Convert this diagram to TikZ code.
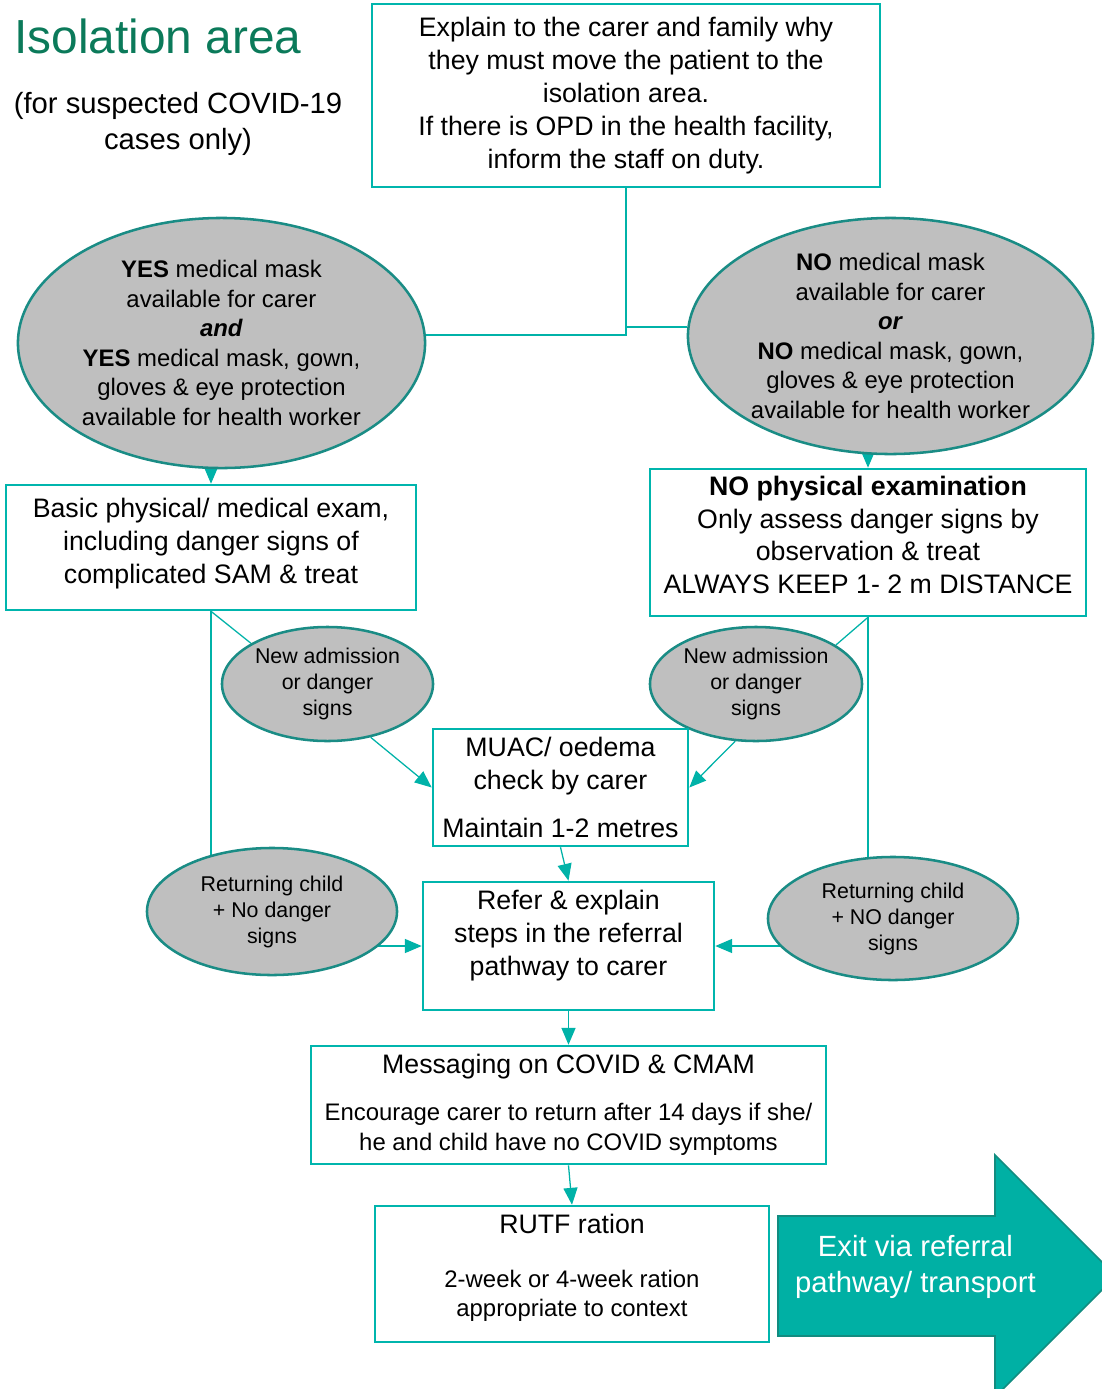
\documentclass[tikz,border=0pt]{standalone}
\usepackage{fontspec}
\setmainfont{Liberation Sans}
\usetikzlibrary{shapes.geometric,arrows.meta,positioning,calc,backgrounds}

\definecolor{boxteal}{RGB}{0,181,173}
\definecolor{ringteal}{RGB}{26,140,133}
\definecolor{linkteal}{RGB}{0,178,168}
\definecolor{exitteal}{RGB}{0,176,164}
\definecolor{exitedge}{RGB}{18,140,128}
\definecolor{titlegreen}{RGB}{11,122,90}
\definecolor{ovalgrey}{RGB}{191,191,191}

\newcommand{\boxfont}{\fontsize{19}{23.4}\selectfont}
\newcommand{\ovalfont}{\fontsize{17}{21}\selectfont}
\newcommand{\smallovalfont}{\fontsize{15.2}{18.5}\selectfont}
\newcommand{\headfont}{\fontsize{20.8}{25.6}\selectfont}

\begin{document}
\begin{tikzpicture}[
        x=0.025cm, y=-0.025cm,
        >={Triangle[length=12pt,width=10pt]},
        % Block styles
        stepbox/.style={
            rectangle,
            draw=boxteal,
            line width=1.8pt,
            inner sep=0pt,
            align=center,
            font=\boxfont
        },
        oval/.style={
            ellipse,
            draw=ringteal,
            line width=1.8pt,
            fill=ovalgrey,
            inner sep=0pt,
            align=center,
            font=\ovalfont
        },
        smalloval/.style={
            oval,
            font=\smallovalfont
        },
        link/.style={draw=linkteal, line width=0.9pt},
        arrow/.style={link, ->}
    ]
    \useasboundingbox (0,0) rectangle (1101,1389);

    % Title
    \node[anchor=base west, inner sep=0pt, text=titlegreen, font=\fontsize{34}{40}\selectfont] (title) at (14,53) {Isolation area};
    \node[align=center, inner sep=0pt, font=\headfont] (subtitle) at (178,124) {(for suspected COVID-19\\cases only)};

    % Top
    \node[stepbox, minimum width=12.7cm, minimum height=4.575cm] (explain) at (626,95.5) {Explain to the carer and family why\\they must move the patient to the\\isolation area.\\If there is OPD in the health facility,\\inform the staff on duty.};

    % PPE ovals
    \node[oval, minimum width=10.175cm, minimum height=6.25cm] (yesppe) at (221.5,343) {\textbf{YES} medical mask\\available for carer\\\textbf{\textit{and}}\\\textbf{YES} medical mask, gown,\\gloves \& eye protection\\available for health worker};
    \node[oval, minimum width=10.125cm, minimum height=5.9cm] (noppe) at (890.5,336) {\textbf{NO} medical mask\\available for carer\\\textbf{\textit{or}}\\\textbf{NO} medical mask, gown,\\gloves \& eye protection\\available for health worker};

    % Examination
    \node[stepbox, minimum width=10.25cm, minimum height=3.125cm] (basic) at (211,547.5) {Basic physical/ medical exam,\\including danger signs of\\complicated SAM \& treat\rule[-9pt]{0pt}{1pt}};
    \node[stepbox, minimum width=10.9cm, minimum height=3.675cm] (nophys) at (868,542.5) {\textbf{NO physical examination}\\Only assess danger signs by\\observation \& treat\\ALWAYS KEEP 1- 2 m DISTANCE\rule[-11pt]{0pt}{1pt}};

    % Admission ovals
    \node[smalloval, minimum width=5.275cm, minimum height=2.85cm] (newleft) at (327.5,684) {New admission\\or danger\\signs};
    \node[smalloval, minimum width=5.3cm, minimum height=2.85cm] (newright) at (756,684) {New admission\\or danger\\signs};
    \node[smalloval, minimum width=6.25cm, minimum height=3.175cm] (retleft) at (272,911.5) {Returning child\\+ No danger\\signs};
    \node[smalloval, minimum width=6.25cm, minimum height=3.075cm] (retright) at (893,918.5) {Returning child\\+ NO danger\\signs};

    % Middle steps
    \node[stepbox, minimum width=6.375cm, minimum height=2.925cm] (muac) at (560.5,787.5) {MUAC/ oedema\\check by carer\\[11.3pt]Maintain 1-2 metres};
    \node[stepbox, minimum width=7.275cm, minimum height=3.2cm] (refer) at (568.5,946) {Refer \& explain\\steps in the referral\\pathway to carer\rule[-19pt]{0pt}{1pt}};
    \node[stepbox, minimum width=12.875cm, minimum height=2.95cm] (messaging) at (568.5,1105) {Messaging on COVID \& CMAM\\[10pt]\ovalfont Encourage carer to return after 14 days if she/\\[-2.4pt]\ovalfont he and child have no COVID symptoms};
    \node[stepbox, minimum width=9.85cm, minimum height=3.4cm] (rutf) at (572,1274) {RUTF ration\\[14.3pt]\ovalfont 2-week or 4-week ration\\[-2.4pt]\ovalfont appropriate to context\rule[-12pt]{0pt}{1pt}};

    % Exit
    \fill[exitteal, draw=exitedge, line width=1.2pt] (778,1216) -- (995,1216) -- (995,1155) -- (1116,1276) -- (995,1397) -- (995,1336) -- (778,1336) -- cycle;
    \node[align=center, inner sep=0pt, text=white, font=\headfont] (exit) at (915.5,1267) {Exit via referral\\pathway/ transport};

    % Connections
    \begin{scope}[on background layer]
        \draw[link] (explain.south) |- ([yshift=0.2cm]yesppe.east);
        \draw[link] ([yshift=0.225cm]noppe.west) -| (explain.south);
        \draw[arrow] (basic.north |- yesppe.south) -- (basic.north);
        \draw[arrow] (nophys.north |- noppe.south) -- (nophys.north);

        \draw[link] (basic.south) -- (newleft.152);
        \draw[arrow] (newleft.-51) -- (muac.west);
        \draw[link] (nophys.south) -- (newright.26);
        \draw[arrow] (newright.250) -- (muac.east);

        \draw[link] (basic.south) -- (basic.south |- retleft);
        \draw[arrow] (retleft |- refer.west) -- (refer.west);
        \draw[link] (nophys.south) -- (nophys.south |- retright);
        \draw[arrow] (retright |- refer.east) -- (refer.east);

        \draw[arrow] (muac.south) -- (refer.north);
        \draw[arrow] (refer.south) -- (messaging.north);
        \draw[arrow] (messaging.south) -- (rutf.north);
    \end{scope}

\end{tikzpicture}
\end{document}
